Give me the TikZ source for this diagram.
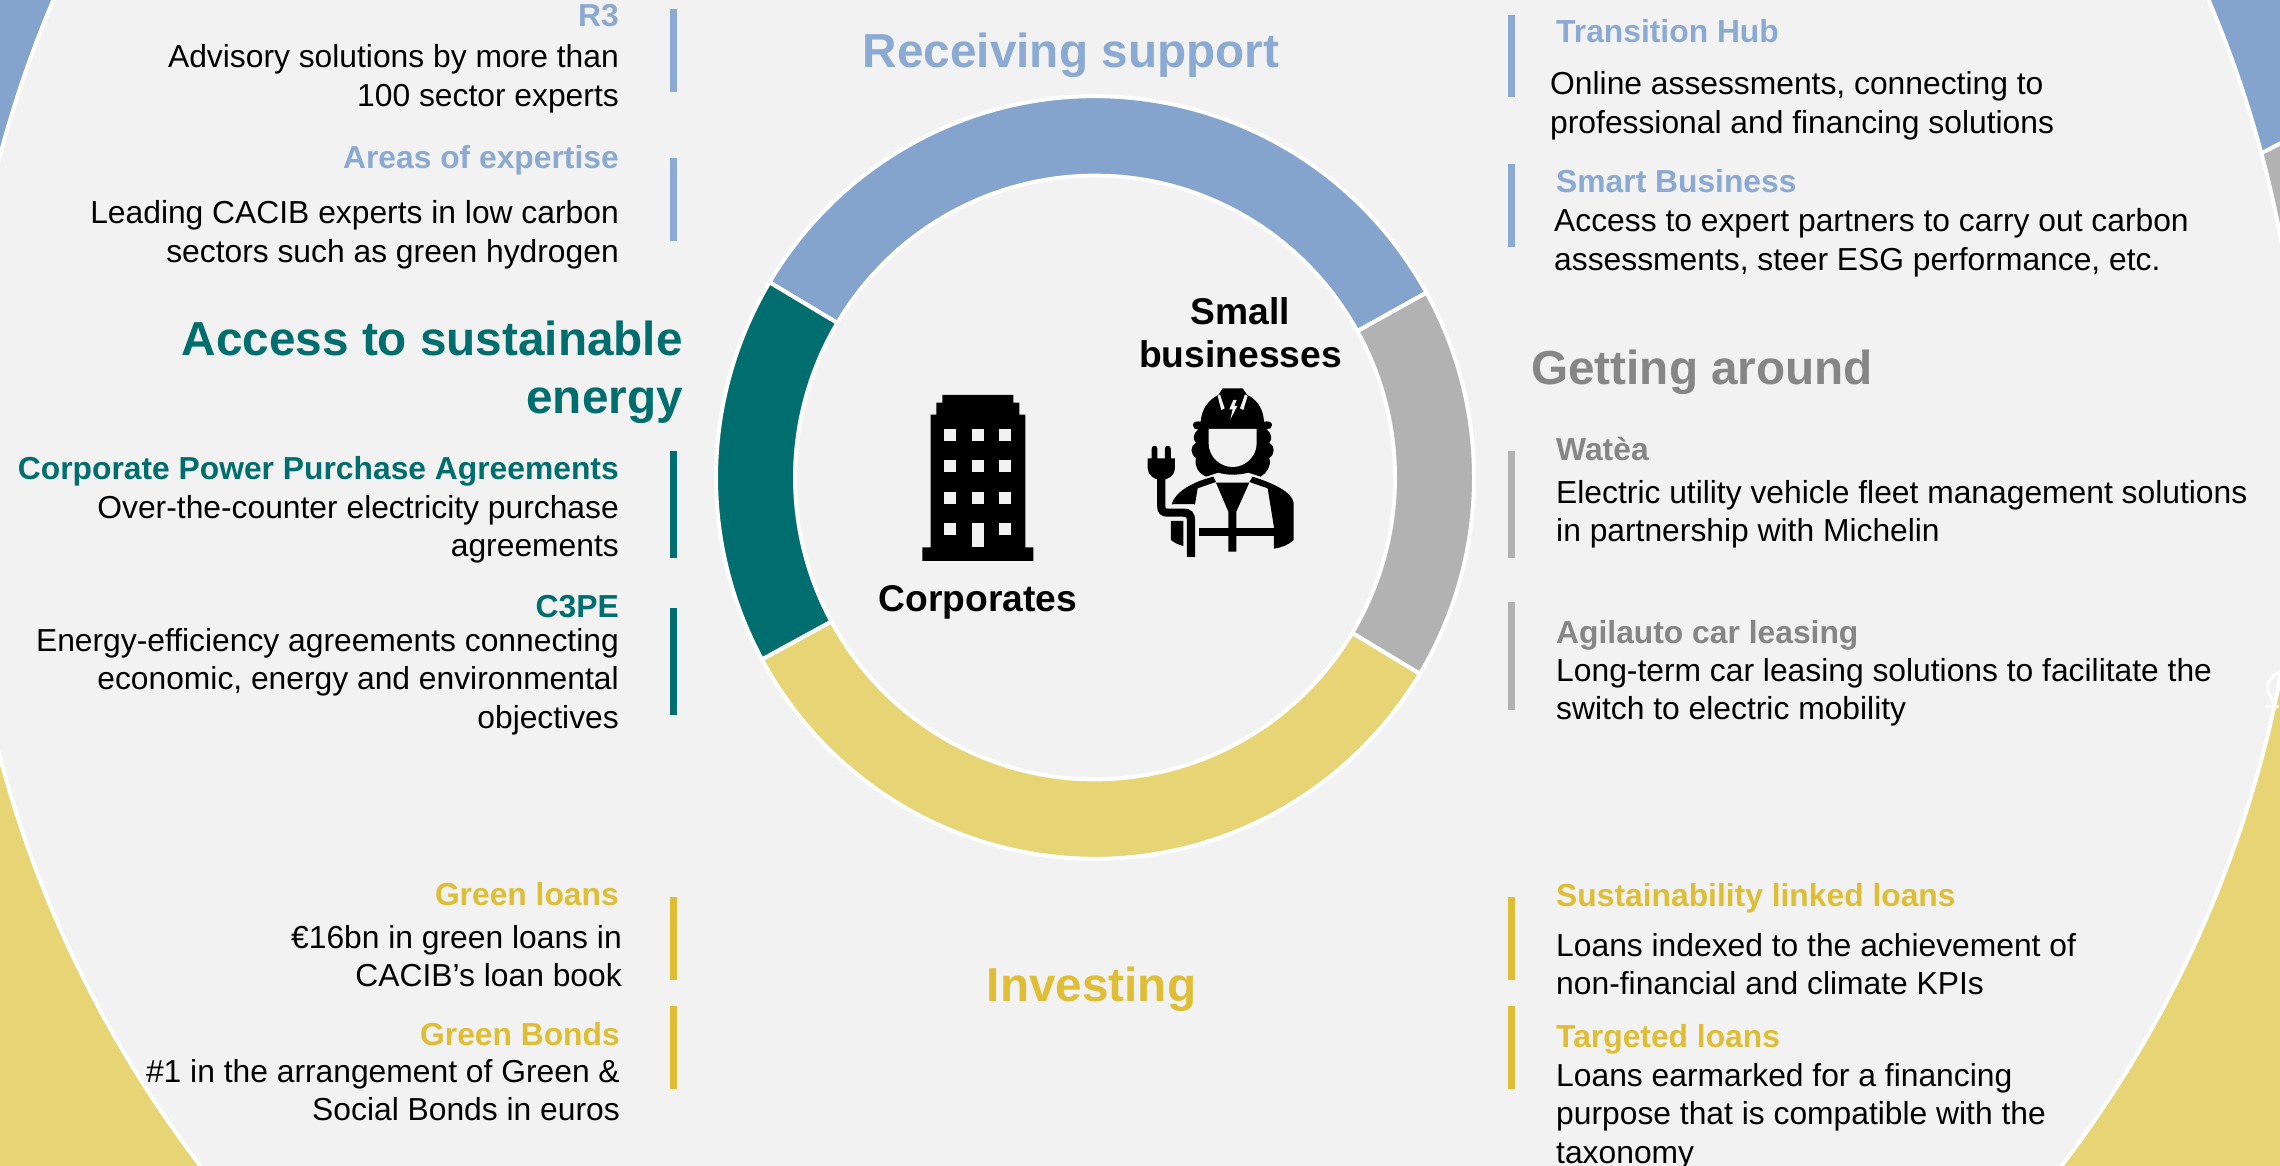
\documentclass[tikz,border=0pt]{standalone}
\usepackage{fontspec}
\setmainfont{Liberation Sans}
\definecolor{bg}{HTML}{F2F2F2}
\definecolor{ablue}{HTML}{84A4CD}
\definecolor{hblue}{HTML}{8AA9D3}
\definecolor{ateal}{HTML}{006E6E}
\definecolor{agrey}{HTML}{B2B2B2}
\definecolor{hgrey}{HTML}{868686}
\definecolor{ayel}{HTML}{E6D475}
\definecolor{hyel}{HTML}{DFBD35}
\tikzset{
  sector/.style={draw=white,line width=4pt,line join=miter},
  bodyfont/.style={font=\fontsize{31.8}{38.5}\selectfont,text=black,inner sep=0pt},
  headfont/.style={font=\fontsize{31.8}{38.5}\selectfont\bfseries,inner sep=0pt},
  titlefont/.style={font=\fontsize{47.7}{58}\selectfont\bfseries,inner sep=0pt},
  boldlabel/.style={font=\fontsize{37.2}{43}\selectfont\bfseries,text=black,inner sep=0pt},
  barshape/.style={fill=#1,draw=none},
}
\newcommand{\blockR}[5]{\node[#1,anchor=base east] (#2) at (#3,#4) {\begin{tabular}[t]{@{}r@{}}#5\end{tabular}};}
\newcommand{\blockL}[5]{\node[#1,anchor=base west] (#2) at (#3,#4) {\begin{tabular}[t]{@{}l@{}}#5\end{tabular}};}
\newcommand{\blockC}[5]{\node[#1,anchor=base] (#2) at (#3,#4) {\begin{tabular}[t]{@{}c@{}}#5\end{tabular}};}
\newcommand{\ringsector}[3]{\fill[#1,sector] (#2:379pt) arc[start angle=#2,end angle=#3,radius=379pt] -- ++(#3:-79pt) arc[start angle=#3,end angle=#2,radius=300pt] -- cycle;}
\begin{document}
\begin{tikzpicture}[x=1pt,y=-1pt]
\useasboundingbox (0,0) rectangle (2280,1166);
\fill[bg] (0,0) rectangle (2280,1166);
% outer coloured corners
\fill[ablue] (0,0) rectangle (400,400);
\fill[ablue] (1900,0) -- (2280,0) -- (2280,142) -- (1900,340) -- cycle;
\fill[agrey] (1900,340) -- (2280,142) -- (2280,500) -- (1900,500) -- cycle;
\draw[white,line width=4pt] (2200,185) -- (2285,141);
\fill[ayel] (0,600) rectangle (500,1166);
\fill[ayel] (1800,600) rectangle (2280,1166);
\fill[bg,draw=white,line width=4pt] (1131,456.5) circle[radius=1170pt];
\draw[white,line width=3pt,line cap=round] (2282,672) .. controls (2272,674) and (2266,682) .. (2268,690) .. controls (2269,697) and (2274,700) .. (2274,706);
\draw[white,line width=3pt] (2265,706) -- (2279,706);
% central ring
\begin{scope}[shift={(1095,477.5)},yscale=1.006]
\ringsector{ablue}{29}{149.2}
\ringsector{agrey}{-31}{29}
\ringsector{ayel}{208.5}{329}
\ringsector{ateal}{149.2}{208.5}
\end{scope}
% titles
\blockC{titlefont,text=hblue}{recv}{1071}{68}{Receiving support}
\blockR{titlefont,text=ateal}{access}{683}{355}{Access to sustainable\\energy}
\blockL{titlefont,text=hgrey}{getting}{1531}{384}{Getting around}
\blockC{titlefont,text=hyel}{invest}{1091.5}{1001}{Investing}
% left bars
\fill[barshape=hblue] (670,9) rectangle (677,92);
\fill[barshape=hblue] (670,158) rectangle (677,241);
\fill[barshape=ateal] (670,451) rectangle (677,558);
\fill[barshape=ateal] (670,608) rectangle (677,715);
\fill[barshape=hyel] (670,897) rectangle (677,980);
\fill[barshape=hyel] (670,1006) rectangle (677,1089);
% right bars
\fill[barshape=hblue] (1508,15) rectangle (1515,97);
\fill[barshape=hblue] (1508,164) rectangle (1515,247);
\fill[barshape=agrey] (1508,451) rectangle (1515,558);
\fill[barshape=agrey] (1508,602) rectangle (1515,710);
\fill[barshape=hyel] (1508,897) rectangle (1515,980);
\fill[barshape=hyel] (1508,1006) rectangle (1515,1089);
% left column
\blockR{headfont,text=hblue}{r3h}{619}{27}{R3}
\blockR{bodyfont}{r3b}{619}{68}{Advisory solutions by more than\\100 sector experts}
\blockR{headfont,text=hblue}{areah}{619}{169}{Areas of expertise}
\blockR{bodyfont}{areab}{619}{224}{Leading CACIB experts in low carbon\\sectors such as green hydrogen}
\blockR{headfont,text=ateal}{ppah}{619}{479}{Corporate Power Purchase Agreements}
\blockR{bodyfont}{ppab}{619}{518}{Over-the-counter electricity purchase\\agreements}
\blockR{headfont,text=ateal}{c3h}{619}{617}{C3PE}
\blockR{bodyfont}{c3b}{619}{651}{Energy-efficiency agreements connecting\\economic, energy and environmental\\objectives}
\blockR{headfont,text=hyel}{glh}{619}{905}{Green loans}
\blockR{bodyfont}{glb}{622}{948}{€16bn in green loans in\\CACIB’s loan book}
\blockR{headfont,text=hyel}{gbh}{620}{1045}{Green Bonds}
\blockR{bodyfont}{gbb}{620}{1082}{\#1 in the arrangement of Green \&\\Social Bonds in euros}
% right column
\blockL{headfont,text=hblue}{thh}{1556}{43}{Transition Hub}
\blockL{bodyfont}{thb}{1550}{95}{Online assessments, connecting to\\professional and financing solutions}
\blockL{headfont,text=hblue}{sbh}{1556}{193}{Smart Business}
\blockL{bodyfont}{sbb}{1554}{232}{Access to expert partners to carry out carbon\\assessments, steer ESG performance, etc.}
\blockL{headfont,text=hgrey}{wah}{1556}{460}{Watèa}
\blockL{bodyfont}{wab}{1556}{503}{Electric utility vehicle fleet management solutions\\in partnership with Michelin}
\blockL{headfont,text=hgrey}{agh}{1556}{643}{Agilauto car leasing}
\blockL{bodyfont}{agb}{1556}{681}{Long-term car leasing solutions to facilitate the\\switch to electric mobility}
\blockL{headfont,text=hyel}{slh}{1556}{906}{Sustainability linked loans}
\blockL{bodyfont}{slb}{1556}{956}{Loans indexed to the achievement of\\non-financial and climate KPIs}
\blockL{headfont,text=hyel}{tlh}{1556}{1047}{Targeted loans}
\blockL{bodyfont}{tlb}{1556}{1086}{Loans earmarked for a financing\\purpose that is compatible with the\\taxonomy}
% centre labels
\blockC{boldlabel}{small}{1240.5}{324}{Small\\businesses}
\blockC{boldlabel}{corp}{978}{611}{Corporates}
% building icon
\begin{scope}[shift={(880,370)},x=0.3333pt,y=-0.3333pt]
\fill[black] (187,75) -- (400,75) -- (400,98) -- (418,98) -- (418,134) -- (436,134) -- (436,532) -- (460,532) -- (460,573) -- (127,573) -- (127,532) -- (152,532) -- (152,134) -- (169,134) -- (169,98) -- (187,98) -- cycle;
\foreach \wx in {192,275,358}{\foreach \wy in {176,270,365}{\fill[bg] (\wx,\wy) rectangle ++(36,36);}}
\fill[bg] (192,460) rectangle ++(36,36);
\fill[bg] (358,460) rectangle ++(36,36);
\fill[bg] (275,460) rectangle (311,532);
\end{scope}
% worker icon
\begin{scope}[shift={(1000,320)},x=0.3333pt,y=-0.3333pt]
% helmet and hair
\fill[black] (602,305) .. controls (605,265) and (628,238) .. (655,225) -- (668,205) -- (728,205) -- (742,225) .. controls (770,238) and (790,265) .. (792,305)
 .. controls (805,303) and (817,305) .. (816,316) .. controls (816,325) and (808,328) .. (800,328)
 .. controls (815,340) and (818,358) .. (808,368) .. controls (825,378) and (826,402) .. (808,414)
 .. controls (815,440) and (800,458) .. (782,470) -- (745,458) .. controls (715,466) and (680,466) .. (655,458) -- (618,470)
 .. controls (595,458) and (582,440) .. (588,414) .. controls (570,402) and (570,378) .. (588,368) .. controls (576,358) and (580,340) .. (595,328)
 .. controls (585,328) and (579,325) .. (579,316) .. controls (579,305) and (590,303) .. (602,305) -- cycle;
% face
\fill[bg] (626,327) -- (770,327) -- (770,370) .. controls (770,410) and (735,441) .. (698,441) .. controls (660,441) and (626,410) .. (626,370) -- cycle;
% helmet stripes and bolt
\fill[bg] (653,228) -- (660,223) -- (674,265) -- (664,270) -- cycle;
\fill[bg] (735,223) -- (743,228) -- (730,270) -- (720,265) -- cycle;
\fill[bg] (700,240) -- (710,240) -- (703,258) -- (712,258) -- (691,298) -- (698,268) -- (688,268) -- cycle;
% collar gap
\fill[bg] (655,462) .. controls (680,470) and (720,470) .. (742,462) -- (746,484) .. controls (715,490) and (680,490) .. (650,484) -- cycle;
% shoulders
\fill[black] (515,553) .. controls (525,515) and (580,485) .. (640,470) -- (648,486) -- (593,505) -- (585,553) .. controls (580,552) and (530,552) .. (515,553) -- cycle;
\fill[black] (758,470) .. controls (820,490) and (875,515) .. (881,548) -- (881,660) .. controls (865,675) and (845,683) .. (822,686) -- (822,622) -- (803,505) -- (748,486) -- cycle;
% tie and belt
\fill[black] (648,488) -- (748,488) -- (709,575) -- (709,695) -- (685,695) -- (685,575) -- cycle;
\fill[black] (597,623) rectangle (822,648);
% lower left
\fill[black] (513,603) -- (550,603) -- (550,678) .. controls (532,673) and (520,667) .. (513,660) -- cycle;
% cable
\draw[black,line width=8.2pt] (484,470) -- (484,560) .. controls (484,572) and (490,578) .. (502,578) -- (552,578) .. controls (566,578) and (573,586) .. (573,600) -- (573,711);
% plug
\fill[black] (443,415) -- (455,415) -- (455,386) arc[start angle=180,end angle=0,radius=2.9pt] -- (472,415) -- (495,415) -- (495,386) arc[start angle=180,end angle=0,radius=2.9pt] -- (513,415) -- (525,415) -- (525,445) .. controls (525,465) and (505,480) .. (484,480) .. controls (463,480) and (443,465) .. (443,445) -- cycle;
\end{scope}
\end{tikzpicture}
\end{document}
